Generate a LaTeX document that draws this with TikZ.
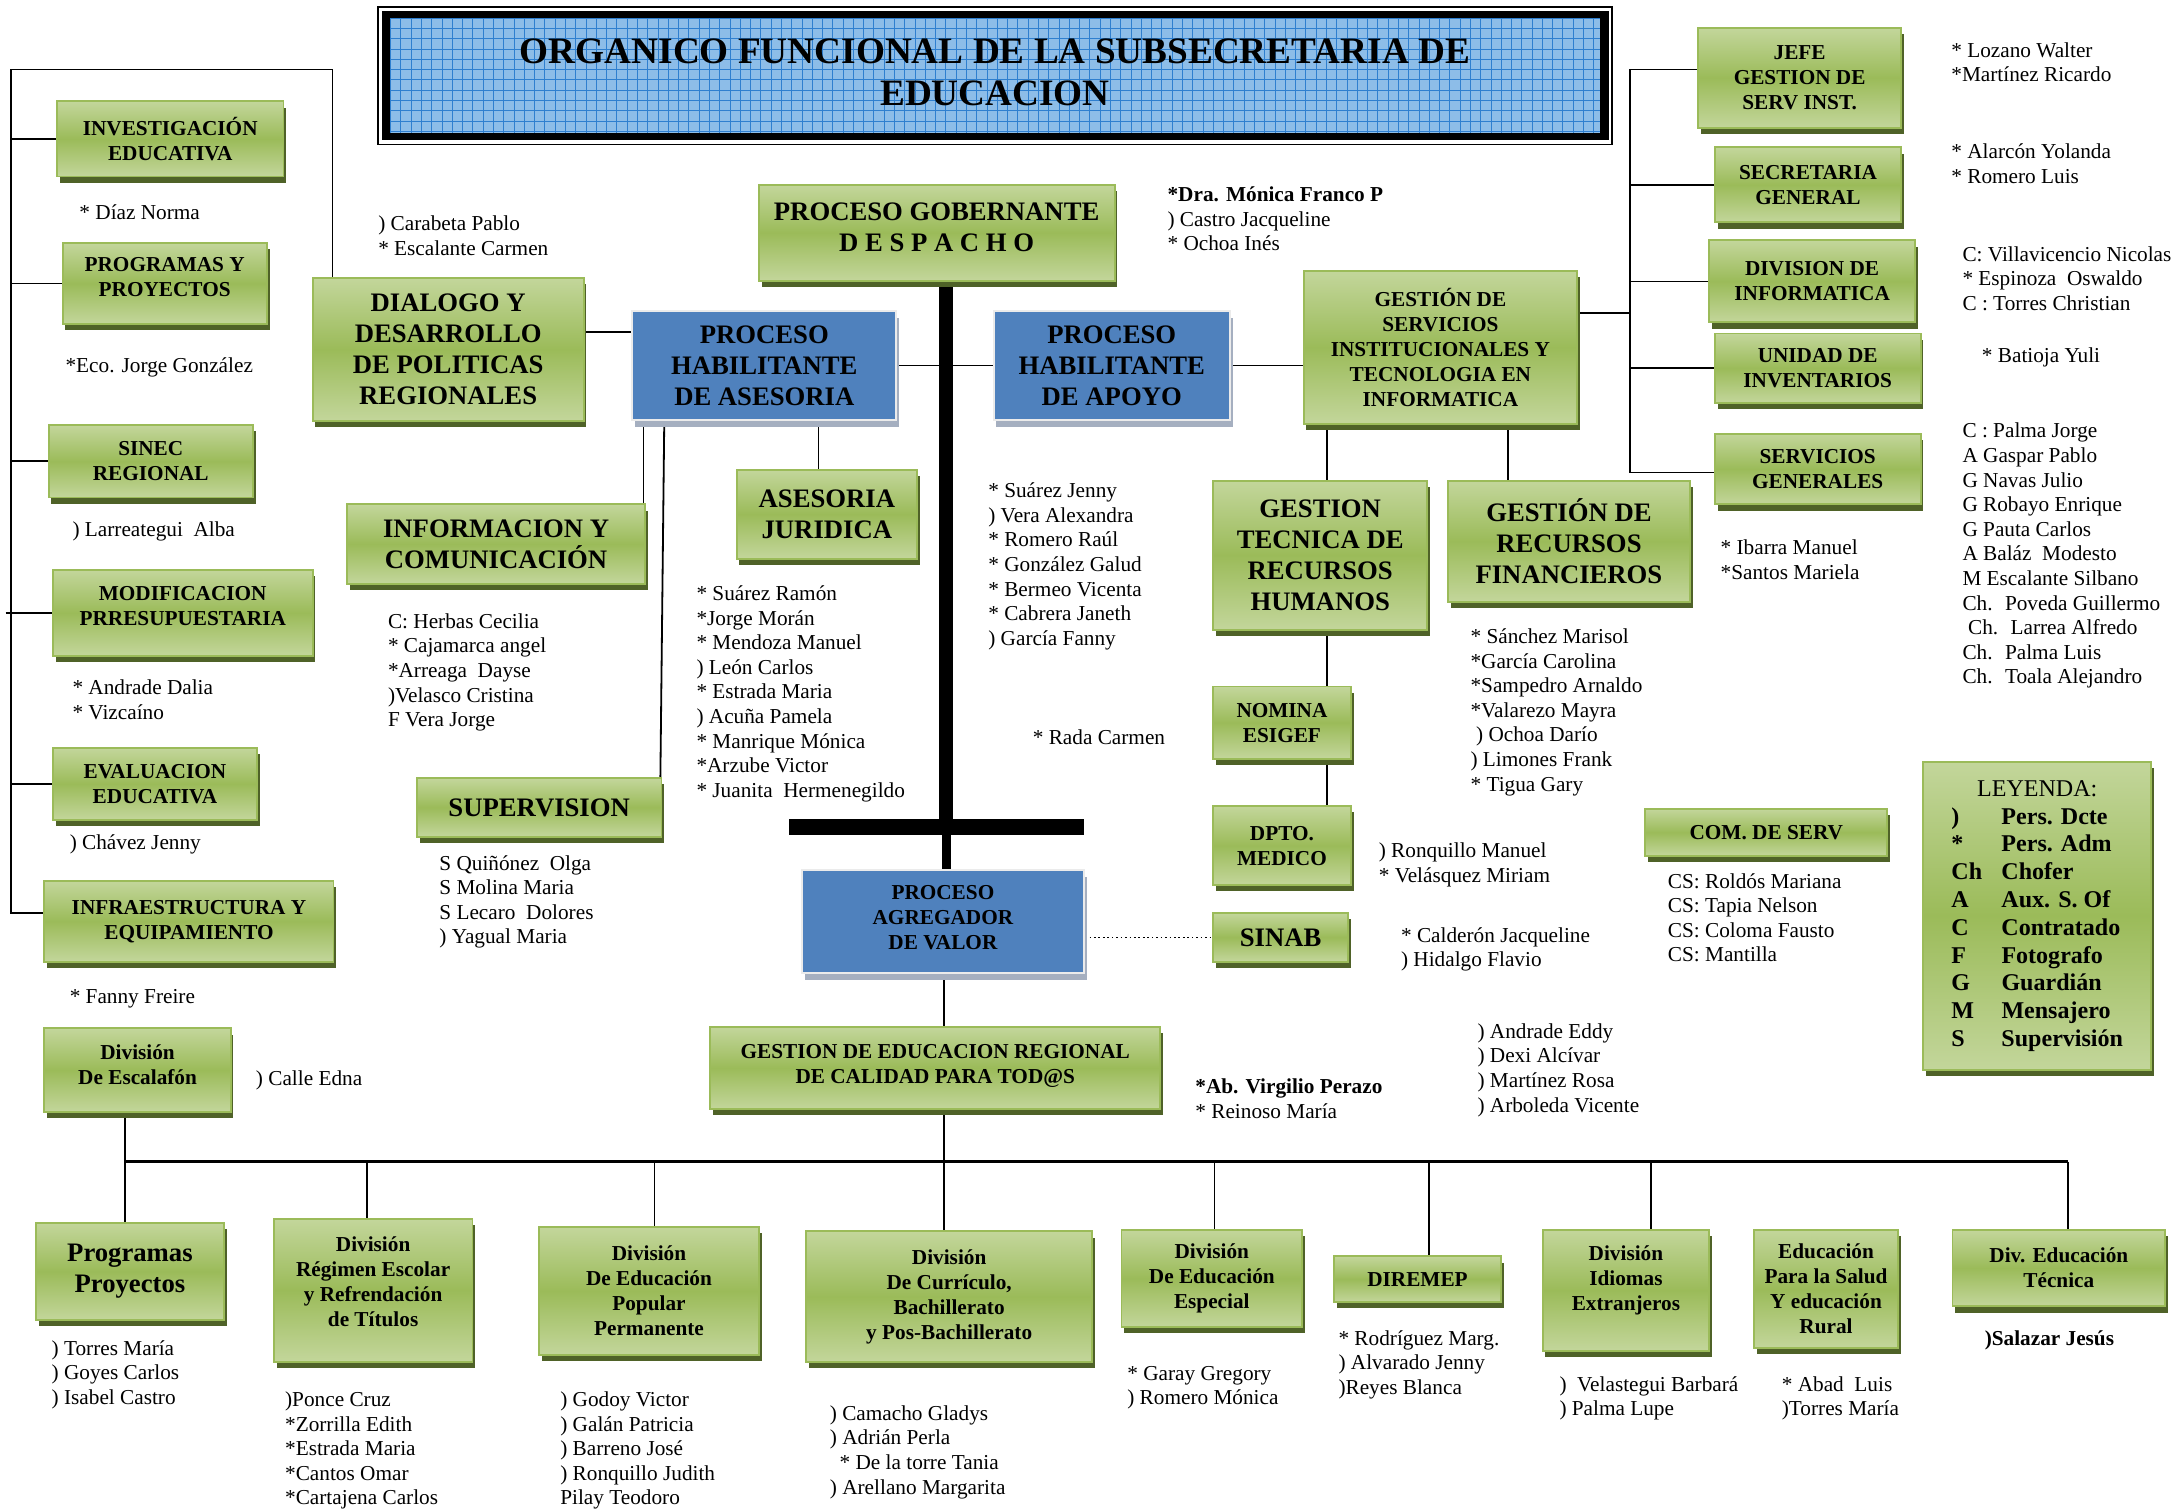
\documentclass[tikz,border=0pt]{standalone}
\usepackage{fontspec}
\usepackage{array}
\setmainfont{Liberation Serif}
\usetikzlibrary{shadows,calc,backgrounds}
\definecolor{glight}{HTML}{C3D69B}
\definecolor{gmid}{HTML}{9BBB59}
\definecolor{gline}{HTML}{9BBB59}
\definecolor{gshadow}{HTML}{4F6228}
\definecolor{pblue}{HTML}{4F81BD}
\definecolor{pshadow}{HTML}{A5AFC0}
\definecolor{tblue}{HTML}{8DBDE8}
\definecolor{tgrid}{HTML}{2F7FCF}
\newcommand\fS{\fontsize{15.3}{18}\selectfont\bfseries}
\newcommand\fL{\fontsize{19.2}{22.3}\selectfont\bfseries}
\newcommand\fN{\fontsize{15.3}{17.7}\selectfont}
\begin{document}
\begin{tikzpicture}[x=1pt,y=-1pt,
 gbox/.style={draw=gline, line width=1.4pt, top color=glight, bottom color=glight, middle color=gmid, align=center, inner sep=2pt, drop shadow={shadow xshift=2pt, shadow yshift=-4.5pt, fill=gshadow, opacity=1}},
 bbox/.style={draw=white!92!black, line width=1.6pt, fill=pblue, align=center, inner sep=2pt, drop shadow={shadow xshift=2pt, shadow yshift=-5pt, fill=pshadow, opacity=1}},
 conn/.style={line width=1.3pt},
 nm/.style={anchor=north west, inner sep=0pt, align=left, font=\fN},
 sz/.style 2 args={minimum width=#1pt, minimum height=#2pt},
]
\useasboundingbox (0,0) rectangle (1568,1087);

% Title
\draw[line width=1pt] (272,5) rectangle (1160,104);
\fill (275,8) rectangle (1158,101);
\fill[tblue] (281,13) rectangle (1151,96);
\foreach \i in {0,...,117} \draw[tgrid, line width=0.5pt] ({281+\i*7.4},13) -- ({281+\i*7.4},96);
\foreach \j in {0,...,11} \draw[tgrid, line width=0.5pt] (281,{13+\j*7.4}) -- (1151,{13+\j*7.4});
\node[align=center, font=\fontsize{26.8}{30}\selectfont\bfseries] (title) at (716,52) {ORGANICO FUNCIONAL DE LA SUBSECRETARIA DE\\EDUCACION};

% Boxes
\node[gbox, sz={163}{54}, font=\fS] (inv) at (122.5,100) {INVESTIGACIÓN\\EDUCATIVA};
\node[gbox, sz={147}{58}, font=\fS, text depth=9pt] (prog) at (118.5,204) {PROGRAMAS Y\\PROYECTOS};
\node[gbox, sz={147}{52}, font=\fS] (sinec) at (108.5,332) {SINEC\\REGIONAL};
\node[gbox, sz={187}{62}, font=\fS, text depth=10pt] (modif) at (131.5,441) {MODIFICACION\\PRRESUPUESTARIA};
\node[gbox, sz={147}{52}, font=\fS] (eval) at (111.5,564) {EVALUACION\\EDUCATIVA};
\node[gbox, sz={208}{58}, font=\fS] (infra) at (136,663) {INFRAESTRUCTURA Y\\EQUIPAMIENTO};
\node[gbox, sz={195}{103}, font=\fL] (dialogo) at (322.5,251.5) {DIALOGO Y\\DESARROLLO\\DE POLITICAS\\REGIONALES};
\node[gbox, sz={256}{69}, font=\fL, text depth=8pt] (gob) at (674,167.5) {PROCESO GOBERNANTE\\D E S P A C H O};
\node[bbox, sz={190}{78}, font=\fL] (asesB) at (550,263) {PROCESO\\HABILITANTE\\DE ASESORIA};
\node[bbox, sz={170}{78}, font=\fL] (apoyoB) at (800,263) {PROCESO\\HABILITANTE\\DE APOYO};
\node[gbox, sz={197}{110}, font=\fS] (gsi) at (1036.5,250) {GESTIÓN DE\\SERVICIOS\\INSTITUCIONALES Y\\TECNOLOGIA EN\\INFORMATICA};
\node[gbox, sz={146}{72}, font=\fS] (jefe) at (1295,56) {JEFE\\GESTION DE\\SERV INST.};
\node[gbox, sz={134}{54}, font=\fS] (secgen) at (1301,133) {SECRETARIA\\GENERAL};
\node[gbox, sz={148}{59}, font=\fS] (divinf) at (1304,202.5) {DIVISION DE\\INFORMATICA};
\node[gbox, sz={148}{50}, font=\fS] (unidad) at (1308,265) {UNIDAD DE\\INVENTARIOS};
\node[gbox, sz={148}{51}, font=\fS] (servgen) at (1308,337.5) {SERVICIOS\\GENERALES};
\node[gbox, sz={130}{64}, font=\fL] (jur) at (595,370) {ASESORIA\\JURIDICA};
\node[gbox, sz={214}{57}, font=\fL] (infcom) at (357,391.5) {INFORMACION Y\\COMUNICACIÓN};
\node[gbox, sz={176}{42}, font=\fL] (superv) at (388,581) {SUPERVISION};
\node[gbox, sz={154}{107}, font=\fL] (gthr) at (950,399.5) {GESTION\\TECNICA DE\\RECURSOS\\HUMANOS};
\node[gbox, sz={174}{87}, font=\fL] (grf) at (1129,389.5) {GESTIÓN DE\\RECURSOS\\FINANCIEROS};
\node[gbox, sz={99}{52}, font=\fS] (nomina) at (922.5,520) {NOMINA\\ESIGEF};
\node[gbox, sz={99}{57}, font=\fS] (dpto) at (922.5,608.5) {DPTO.\\MEDICO};
\node[gbox, sz={97}{35}, font=\fL] (sinab) at (921.5,674.5) {SINAB};
\node[gbox, sz={174}{34}, font=\fS] (comserv) at (1271,599) {COM. DE SERV};
\node[gbox, sz={164}{222}, font=\fontsize{17.3}{20}\selectfont] (ley) at (1466,659) {%
\begin{tabular}{@{}>{\bfseries}p{36pt}@{}>{\bfseries}l@{}}
\multicolumn{2}{c}{LEYENDA:}\\
) & Pers. Dcte\\
{*} & Pers. Adm\\
Ch & Chofer\\
A & Aux. S. Of\\
C & Contratado\\
F & Fotografo\\
G & Guardián\\
M & Mensajero\\
S & Supervisión
\end{tabular}};
\node[bbox, sz={203}{74}, font=\fS, text depth=6pt] (agreg) at (678.5,663) {PROCESO\\AGREGADOR\\DE VALOR};
\node[gbox, sz={324}{59}, font=\fS, text depth=6pt] (ger) at (673,768.5) {GESTION DE EDUCACION REGIONAL\\DE CALIDAD PARA TOD@S};
\node[gbox, sz={134}{60}, font=\fS, text depth=8pt] (escal) at (99,770) {División\\De Escalafón};
\node[gbox, sz={135}{70}, font=\fL] (pp) at (93.5,915) {Programas\\Proyectos};
\node[gbox, sz={143}{103}, font=\fS, text depth=12pt] (regimen) at (268.5,928.5) {División\\Régimen Escolar\\y Refrendación\\de Títulos};
\node[gbox, sz={158}{92}, font=\fS] (popular) at (467,929) {División\\De Educación\\Popular\\Permanente};
\node[gbox, sz={206}{94}, font=\fS] (curric) at (683,933) {División\\De Currículo,\\Bachillerato\\y Pos-Bachillerato};
\node[gbox, sz={130}{70}, font=\fS] (especial) at (872,920) {División\\De Educación\\Especial};
\node[gbox, sz={120}{33}, font=\fS] (diremep) at (1020,920.5) {DIREMEP};
\node[gbox, sz={120}{87}, font=\fS, text depth=17pt] (idiomas) at (1170,928.5) {División\\Idiomas\\Extranjeros};
\node[gbox, sz={104}{85}, font=\fS] (salud) at (1314,927.5) {Educación\\Para la Salud\\Y educación\\Rural};
\node[gbox, sz={153}{55}, font=\fS] (tecnica) at (1481.5,912.5) {Div. Educación\\Técnica};

% Connectors
\begin{scope}[on background layer]
\coordinate (bT) at (8,50);
\coordinate (bB) at (8,657);
\draw[conn] ($(dialogo.north west)+(15,0)$) |- (bT) -- (bB) -- (infra.west |- bB);
\draw[conn] (inv.west) -- (inv.west -| bT);
\draw[conn] (prog.west) -- (prog.west -| bT);
\draw[conn] (sinec.west) -- (sinec.west -| bT);
\draw[conn] ($(modif.west -| bT)+(-4,0)$) -- (modif.west);
\draw[conn] (eval.west) -- (eval.west -| bT);
\coordinate (yA) at (0,239);
\draw[conn] (dialogo.east |- yA) -- (asesB.west |- yA);
\draw[conn] (asesB.east) -- (apoyoB.west);
\draw[conn] (apoyoB.east) -- (gsi.west |- apoyoB.east);
\coordinate (rT) at (1173,50);
\coordinate (rB) at (1173,340);
\coordinate (yG) at (0,225);
\draw[conn] (gsi.east |- yG) -- (rT |- yG);
\draw[conn] (jefe.west |- rT) -- (rT) -- (rB) -- (servgen.west |- rB);
\draw[conn] (secgen.west) -- (secgen.west -| rT);
\draw[conn] (divinf.west) -- (divinf.west -| rT);
\draw[conn] (unidad.west) -- (unidad.west -| rT);
\coordinate (xA) at (463,0);
\coordinate (xB) at (478,0);
\coordinate (xJ) at (589,0);
\draw[conn] (asesB.south -| xA) -- (infcom.north -| xA);
\draw[conn] (asesB.south -| xB) -- ($(superv.north east)+(-1.5,0)$);
\draw[conn] (asesB.south -| xJ) -- (jur.north -| xJ);
\coordinate (bar) at (681,595);
\coordinate (barL) at (568,595);
\coordinate (barR) at (780,595);
\draw[line width=10pt] (gob.south -| bar) -- (bar);
\draw[line width=11pt] (barL) -- (barR);
\draw[line width=6pt] (bar) -- (agreg.north -| bar);
\coordinate (xG1) at (955,0);
\coordinate (xG2) at (1085,0);
\draw[conn] (gsi.south -| xG1) -- (gthr.north -| xG1);
\draw[conn] (gsi.south -| xG2) -- (grf.north -| xG2);
\draw[conn] (gthr.south -| xG1) -- (nomina.north -| xG1);
\draw[conn] (nomina.south -| xG1) -- (dpto.north -| xG1);
\draw[dotted, line width=1.2pt] (agreg.east |- sinab.west) -- (sinab.west);
\coordinate (xM) at (679,0);
\draw[conn] (agreg.south -| xM) -- (ger.north -| xM);
\coordinate (busL) at (90,836);
\coordinate (busR) at (1488,836);
\draw[line width=2.2pt] (busL) -- (busR);
\draw[conn] (ger.south -| xM) -- (curric.north -| xM);
\draw[conn] (escal.south -| busL) -- (pp.north -| busL);
\coordinate (xR) at (264,0);
\coordinate (xP) at (471,0);
\coordinate (xE) at (874,0);
\coordinate (xD) at (1028,0);
\coordinate (xI) at (1188,0);
\draw[conn] (busL -| xR) -- (regimen.north -| xR);
\draw[conn] (busL -| xP) -- (popular.north -| xP);
\draw[conn] (busL -| xE) -- (especial.north -| xE);
\draw[conn] (busL -| xD) -- (diremep.north -| xD);
\draw[conn] (busL -| xI) -- (idiomas.north -| xI);
\draw[conn] (busR) -- (tecnica.north -| busR);
\end{scope}

% Names
\node[nm] (n1) at (57,145.5) {\strut* Díaz Norma};
\node[nm] (n2) at (47,255.5) {\strut*Eco. Jorge González};
\node[nm] (n3) at (52,373.5) {\strut) Larreategui~ Alba};
\node[nm] (n4) at (52,487.5) {\strut* Andrade Dalia\\* Vizcaíno};
\node[nm] (n5) at (50,598.5) {\strut) Chávez Jenny};
\node[nm] (n6) at (50,709.5) {\strut* Fanny Freire};
\node[nm] (n7) at (272,153.5) {\strut) Carabeta Pablo\\* Escalante Carmen};
\node[nm] (n8) at (840,132.5) {\strut{\bfseries *Dra. Mónica Franco P}\\) Castro Jacqueline\\* Ochoa Inés};
\node[nm] (n9) at (1404,28.5) {\strut* Lozano Walter\\*Martínez Ricardo};
\node[nm] (n10) at (1404,101.5) {\strut* Alarcón Yolanda\\* Romero Luis};
\node[nm] (n11) at (1412,175.5) {\strut C: Villavicencio Nicolas\\* Espinoza~ Oswaldo\\C : Torres Christian};
\node[nm] (n12) at (1426,248.5) {\strut* Batioja Yuli};
\node[nm] (n13) at (1412,302.5) {\strut C : Palma Jorge\\A Gaspar Pablo\\G Navas Julio\\G Robayo Enrique\\G Pauta Carlos\\A Baláz~ Modesto\\M Escalante Silbano\\Ch.~ Poveda Guillermo\\\hspace*{4pt}Ch.~ Larrea Alfredo\\Ch.~ Palma Luis\\Ch.~ Toala Alejandro};
\node[nm] (n14) at (1238,386.5) {\strut* Ibarra Manuel\\*Santos Mariela};
\node[nm] (n15) at (279,439.5) {\strut C: Herbas Cecilia\\* Cajamarca angel\\*Arreaga~ Dayse\\)Velasco Cristina\\F Vera Jorge};
\node[nm] (n16) at (501,419.5) {\strut* Suárez Ramón\\*Jorge Morán\\* Mendoza Manuel\\) León Carlos\\* Estrada Maria\\) Acuña Pamela\\* Manrique Mónica\\*Arzube Victor\\* Juanita~ Hermenegildo};
\node[nm] (n17) at (711,345.5) {\strut* Suárez Jenny\\) Vera Alexandra\\* Romero Raúl\\* González Galud\\* Bermeo Vicenta\\* Cabrera Janeth\\) García Fanny};
\node[nm] (n18) at (743,523.5) {\strut* Rada Carmen};
\node[nm] (n19) at (316,613.5) {\strut S Quiñónez~ Olga\\S Molina Maria\\S Lecaro~ Dolores\\) Yagual Maria};
\node[nm] (n20) at (1058,450.5) {\strut* Sánchez Marisol\\*García Carolina\\*Sampedro Arnaldo\\*Valarezo Mayra\\\hspace*{4pt}) Ochoa Darío\\) Limones Frank\\* Tigua Gary};
\node[nm] (n21) at (992,604.5) {\strut) Ronquillo Manuel\\* Velásquez Miriam};
\node[nm] (n22) at (1008,665.5) {\strut* Calderón Jacqueline\\) Hidalgo Flavio};
\node[nm] (n23) at (1200,626.5) {\strut CS: Roldós Mariana\\CS: Tapia Nelson\\CS: Coloma Fausto\\CS: Mantilla};
\node[nm] (n24) at (1063,734.5) {\strut) Andrade Eddy\\) Dexi Alcívar\\) Martínez Rosa\\) Arboleda Vicente};
\node[nm] (n25) at (860,774.5) {\strut{\bfseries *Ab. Virgilio Perazo}\\* Reinoso María};
\node[nm] (n26) at (184,768.5) {\strut) Calle Edna};
\node[nm] (n27) at (37,962.5) {\strut) Torres María\\) Goyes Carlos\\) Isabel Castro};
\node[nm] (n28) at (205,999.5) {\strut)Ponce Cruz\\*Zorrilla Edith\\*Estrada Maria\\*Cantos Omar\\*Cartajena Carlos};
\node[nm] (n29) at (403,999.5) {\strut) Godoy Victor\\) Galán Patricia\\) Barreno José\\) Ronquillo Judith\\Pilay Teodoro};
\node[nm] (n30) at (597,1009.5) {\strut) Camacho Gladys\\) Adrián Perla\\\hspace*{7pt}* De la torre Tania\\) Arellano Margarita};
\node[nm] (n31) at (811,980.5) {\strut* Garay Gregory\\) Romero Mónica};
\node[nm] (n32) at (963,955.5) {\strut* Rodríguez Marg.\\) Alvarado Jenny\\)Reyes Blanca};
\node[nm] (n33) at (1122,988.5) {\strut)~ Velastegui Barbará\\) Palma Lupe};
\node[nm] (n34) at (1282,988.5) {\strut* Abad~ Luis\\)Torres María};
\node[nm] (n35) at (1428,955.5) {\strut{\bfseries )Salazar Jesús}};
\end{tikzpicture}
\end{document}
